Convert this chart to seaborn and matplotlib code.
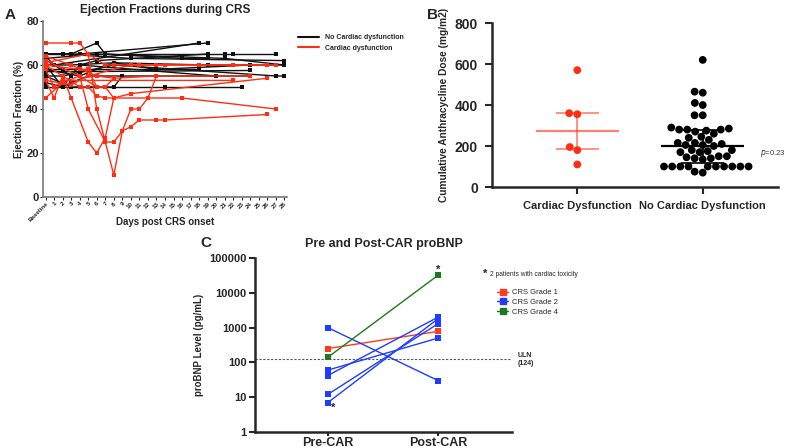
import numpy as np
import pandas as pd
import matplotlib
matplotlib.use("Agg")
import matplotlib.pyplot as plt
from matplotlib.lines import Line2D
import seaborn as sns

sns.set_style("ticks")
plt.rcParams['font.family'] = ['Liberation Sans', 'DejaVu Sans']

# ---------------- Panel A data ----------------
day_labels = ["Baseline"] + [str(i) for i in range(1, 29)]
black_days = [
    [0, 3, 6, 7, 16, 19], [0, 1, 18], [0, 4, 19], [0, 6, 21, 22, 27],
    [0, 2, 10, 28], [0, 3, 8, 19, 28], [0, 2, 18], [0, 4, 24],
    [0, 2, 8, 27, 28], [0, 1, 14, 23], [0, 3, 5, 8, 9], [0, 1, 3, 4, 20],
    [0, 2, 3, 5, 24], [0, 4, 8, 13, 24], [0, 6, 21, 28], [0, 2, 4, 6, 19],
]
black_ef = [
    [65, 65, 70, 65, 63, 63], [64, 60, 70], [65, 65, 70], [65, 65, 65, 65, 65],
    [65, 65, 63, 62], [60, 60, 61, 60, 60], [58, 58, 58], [57, 57, 57.5],
    [55, 55, 60, 55, 55], [50, 50, 50, 50], [55, 50, 50, 50, 55], [62, 60, 55, 60, 55],
    [60, 50, 52, 55, 55], [58, 55, 61, 58, 60], [63, 65, 63, 60], [52, 50, 60, 62, 65],
]
red_days = [
    [0, 3, 4, 5, 6, 8, 9, 10, 11, 13, 14, 26],
    [0, 2, 3, 5, 6, 7, 8],
    [0, 4, 5, 7, 8, 9, 10, 11, 12, 13],
    [0, 1, 2, 4, 5, 6, 7, 8, 16, 27],
    [0, 4, 5, 6, 7, 8, 10, 26],
    [0, 3, 6, 8, 13, 24],
    [0, 5, 7, 8, 10, 11, 14, 18, 22, 26],
    [0, 2, 4, 6, 7, 8],
    [0, 1, 2, 22],
    [0, 3, 5, 10, 13, 27],
]
red_ef = [
    [70, 70, 70, 65, 40, 10, 30, 32, 35, 35, 35, 37.5],
    [60, 55, 45, 25, 20, 27, 45],
    [62, 55, 40, 25, 25, 30, 40, 40, 45, 55],
    [53, 45, 55, 50, 50, 46, 45, 45, 45, 40],
    [60, 58, 58, 50, 50, 45, 47, 54],
    [64, 60, 55, 54, 55, 55],
    [61, 65, 60, 60, 60, 60, 60, 60, 60, 60],
    [45, 52, 55, 50, 50, 54],
    [58, 50, 53, 53],
    [53, 51, 55, 60, 60, 60],
]

# ---------------- Panel B data ----------------
groups_b = ["Cardiac Dysfunction", "No Cardiac Dysfunction"]
dose_cardiac = [570, 360, 355, 195, 180, 110]
dose_no_cardiac = [620, 465, 460, 410, 400, 350, 350,
                   290, 285, 280, 280, 280, 275, 270,
                   260, 245, 240, 230, 215, 215, 210, 205, 205, 200,
                   180, 180, 175, 170, 170, 150, 150, 145, 140, 140, 135,
                   100, 100, 100, 100, 100, 100, 100, 100, 100, 100, 75, 70]

# ---------------- Panel C data ----------------
timepoints = ["Pre-CAR", "Post-CAR"]
c_grades = ["CRS Grade 1", "CRS Grade 2", "CRS Grade 2", "CRS Grade 2",
            "CRS Grade 2", "CRS Grade 2", "CRS Grade 4"]
c_pre = [250, 1000, 60, 42, 12, 7, 140]
c_post = [780, 30, 500, 2000, 1300, 1800, 32000]

RED = "#ff2d12"
BLACK = "#111111"

fig = plt.figure(figsize=(7.87, 4.48), dpi=100)

def px(x0, y0, x1, y1):
    W, H = 787, 448
    return [x0 / W, 1 - y1 / H, (x1 - x0) / W, (y1 - y0) / H]

# ================= Panel A =================
axA = fig.add_axes(px(43, 21, 287, 197))
rows = []
pid = 0
for d, e in zip(black_days, black_ef):
    for dd, ee in zip(d, e):
        rows.append((pid, dd, ee, "No Cardiac dysfunction"))
    pid += 1
for d, e in zip(red_days, red_ef):
    for dd, ee in zip(d, e):
        rows.append((pid, dd, ee, "Cardiac dysfunction"))
    pid += 1
dfA = pd.DataFrame(rows, columns=["pid", "day", "ef", "group"])
sns.lineplot(data=dfA, x="day", y="ef", units="pid", estimator=None, hue="group",
             palette={"No Cardiac dysfunction": BLACK, "Cardiac dysfunction": RED},
             marker="s", markersize=2.5, markeredgewidth=0, linewidth=1.0,
             sort=False, legend=False, ax=axA)
axA.set_xlim(-0.3, 28.3)
axA.set_ylim(0, 80)
axA.set_xticks(range(29))
axA.set_xticklabels(day_labels, rotation=45, ha="right", fontsize=4.5, fontweight="bold",
                    rotation_mode="anchor")
axA.set_yticks([0, 20, 40, 60, 80])
axA.set_yticklabels(["0", "20", "40", "60", "80"], fontsize=8, fontweight="bold")
axA.set_xlabel("Days post CRS onset", fontsize=7, fontweight="bold")
axA.xaxis.set_label_coords(0.5, -0.115)
axA.set_ylabel("Ejection Fraction (%)", fontsize=7, fontweight="bold", labelpad=2)
axA.set_title("Ejection Fractions during CRS", fontsize=8.5, fontweight="bold", pad=6)
for s in ["top", "right"]:
    axA.spines[s].set_visible(False)
for s in ["left", "bottom"]:
    axA.spines[s].set_color("#777777")
    axA.spines[s].set_linewidth(1.2)
axA.tick_params(length=2, width=0.8, pad=1)
hA = [Line2D([0], [0], color=BLACK, lw=1.5), Line2D([0], [0], color=RED, lw=1.5)]
fig.legend(hA, ["No Cardiac dysfunction", "Cardiac dysfunction"],
           loc="upper left", bbox_to_anchor=(292 / 787, 1 - 28 / 448), frameon=False,
           prop={"size": 5, "weight": "bold"}, handlelength=3, labelspacing=0.5)
fig.text(5 / 787, 1 - 15 / 448, "A", fontsize=11, fontweight="bold", va="center")

# ================= Panel B =================
axB = fig.add_axes(px(492, 23, 778, 187))
dfB = pd.DataFrame({
    "group": [groups_b[0]] * len(dose_cardiac) + [groups_b[1]] * len(dose_no_cardiac),
    "dose": dose_cardiac + dose_no_cardiac,
})
sns.swarmplot(data=dfB, x="group", y="dose", hue="group", order=groups_b,
              palette={groups_b[0]: RED, groups_b[1]: "black"}, size=5.6,
              legend=False, ax=axB)
summ_cols = ["#ff2d12", "black"]
for i, vals in enumerate([dose_cardiac, dose_no_cardiac]):
    med = np.median(vals)
    q1, q3 = np.percentile(vals, [25, 75])
    c = summ_cols[i]
    a = 0.6 if i == 0 else 1.0
    axB.hlines(med, i - 0.33, i + 0.33, color=c, lw=1.6, alpha=a, zorder=5)
    axB.vlines(i, q1, q3, color=c, lw=1.2, alpha=a, zorder=5)
    axB.hlines([q1, q3], i - 0.17, i + 0.17, color=c, lw=1.2, alpha=a, zorder=5)
axB.set_xlim(-0.68, 1.6)
axB.set_ylim(0, 800)
axB.set_yticks([0, 200, 400, 600, 800])
axB.set_yticklabels(["0", "200", "400", "600", "800"], fontsize=10, fontweight="bold")
axB.set_xticks([0, 1])
axB.set_xticklabels(groups_b, fontsize=8, fontweight="bold")
axB.set_xlabel("")
axB.set_ylabel("Cumulative Anthracycline Dose (mg/m2)", fontsize=7.3, fontweight="bold", labelpad=4)
for s in ["top", "right"]:
    axB.spines[s].set_visible(False)
for s in ["left", "bottom"]:
    axB.spines[s].set_linewidth(1.8)
axB.tick_params(length=5, width=1.5, pad=5)
fig.text(760 / 787, 1 - 153 / 448, "$p$=0.23", fontsize=5.5, color="#333333",
         va="center", ha="left")
fig.text(427 / 787, 1 - 15 / 448, "B", fontsize=11, fontweight="bold", va="center")

# ================= Panel C =================
axC = fig.add_axes(px(255, 258, 512, 432))
rowsC = []
for i, (g, a, b) in enumerate(zip(c_grades, c_pre, c_post)):
    rowsC.append((i, 0, a, g))
    rowsC.append((i, 1, b, g))
dfC = pd.DataFrame(rowsC, columns=["pid", "pos", "val", "grade"])
palC = {"CRS Grade 1": "#ff3b1f", "CRS Grade 2": "#1f3dff", "CRS Grade 4": "#1e7a1e"}
sns.lineplot(data=dfC, x="pos", y="val", units="pid", estimator=None, hue="grade",
             palette=palC, marker="s", markersize=5, markeredgewidth=0, linewidth=1.0,
             legend=False, ax=axC)
axC.set_yscale("log")
axC.set_ylim(1, 100000)
axC.set_xlim(-0.66, 1.67)
axC.axhline(124, color="#555555", lw=0.8, ls=(0, (2, 1.5)), zorder=0)
axC.set_yticks([1, 10, 100, 1000, 10000, 100000])
axC.set_yticklabels(["1", "10", "100", "1000", "10000", "100000"], fontsize=8, fontweight="bold")
axC.yaxis.set_minor_locator(matplotlib.ticker.NullLocator())
axC.set_xticks([0, 1])
axC.set_xticklabels(timepoints, fontsize=9, fontweight="bold")
axC.set_xlabel("")
axC.set_ylabel("proBNP Level (pg/mL)", fontsize=7, fontweight="bold", labelpad=4)
axC.set_title("Pre and Post-CAR proBNP", fontsize=9, fontweight="bold", pad=8)
for s in ["top", "right"]:
    axC.spines[s].set_visible(False)
for s in ["left", "bottom"]:
    axC.spines[s].set_linewidth(1.8)
axC.tick_params(axis="y", length=4, width=1.5, pad=2)
axC.tick_params(axis="x", length=3, width=1.5, pad=0.5)
axC.text(0.03, 7, "*", fontsize=8, fontweight="bold", va="top", ha="left")
axC.text(1.0, 32000, "*", fontsize=8, fontweight="bold", va="bottom", ha="center")
axC.text(1.72, 124, "ULN\n(124)", fontsize=5, fontweight="bold", va="center", ha="left",
         clip_on=False)
fig.text(200 / 787, 1 - 243 / 448, "C", fontsize=11, fontweight="bold", va="center")
fig.text(483 / 787, 1 - 274 / 448, "*", fontsize=8, fontweight="bold", va="center")
fig.text(490 / 787, 1 - 275 / 448, "2 patients with cardiac toxicity", fontsize=4.8,
         va="center")
hC = [Line2D([0], [0], color=palC[k], lw=1, marker="s", markersize=4) for k in palC]
fig.legend(hC, list(palC.keys()), loc="upper left",
           bbox_to_anchor=(490 / 787, 1 - 282 / 448), frameon=False,
           prop={"size": 5.5}, handlelength=1.5, labelspacing=0.3, handletextpad=0.5)

fig.savefig("out.png", dpi=100)
